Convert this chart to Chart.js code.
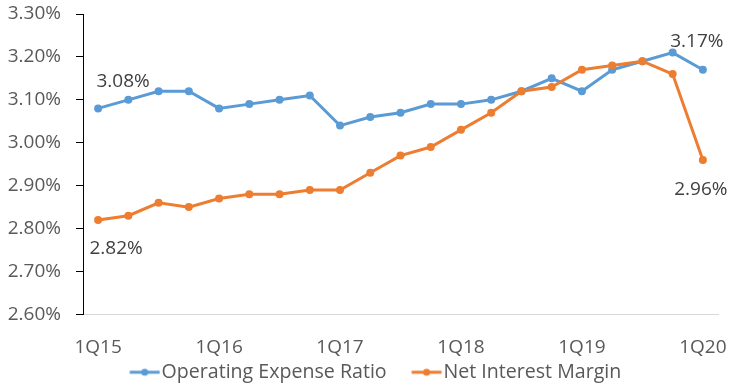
<!DOCTYPE html>
<html>
<head>
<meta charset="utf-8">
<script src="https://cdn.jsdelivr.net/npm/chart.js@4/dist/chart.umd.min.js"></script>
<style>
    body { margin: 0; background: #fff; }
    #wrap { width: 750px; height: 389px; position: relative; }
</style>
</head>
<body>
<div id="wrap"><canvas id="ratioChart"></canvas></div>
<script>
// Quarters on the x axis (only every 4th one is labelled)
const quarters = [
    '1Q15', '2Q15', '3Q15', '4Q15',
    '1Q16', '2Q16', '3Q16', '4Q16',
    '1Q17', '2Q17', '3Q17', '4Q17',
    '1Q18', '2Q18', '3Q18', '4Q18',
    '1Q19', '2Q19', '3Q19', '4Q19',
    '1Q20'
];

// Series values, in percent
const opexRatio = [3.08, 3.10, 3.12, 3.12, 3.08, 3.09, 3.10, 3.11, 3.04, 3.06, 3.07,
                   3.09, 3.09, 3.10, 3.12, 3.15, 3.12, 3.17, 3.19, 3.21, 3.17];
const netInterestMargin = [2.82, 2.83, 2.86, 2.85, 2.87, 2.88, 2.88, 2.89, 2.89, 2.93, 2.97,
                           2.99, 3.03, 3.07, 3.12, 3.13, 3.17, 3.18, 3.19, 3.16, 2.96];

// Y axis range
const yMin = 2.6;
const yMax = 3.3;
const yStep = 0.1;

const BLUE = '#5B9BD5';
const ORANGE = '#ED7D31';
const FONT = '"Open Sans", "DejaVu Sans", sans-serif';

// Which points carry a value label, and where the text sits relative to the point
const valueLabels = [
    { dataset: 0, index: 0, dx: 25, dy: -27 },
    { dataset: 0, index: 20, dx: -6, dy: -28 },
    { dataset: 1, index: 0, dx: 18, dy: 29 },
    { dataset: 1, index: 20, dx: -2, dy: 30 }
];

// Small line + dot picture for the legend
function legendMarker(color) {
    const c = document.createElement('canvas');
    c.width = 60;
    c.height = 10;
    const g = c.getContext('2d');
    g.strokeStyle = color;
    g.lineWidth = 3;
    g.beginPath();
    g.moveTo(29.5, 5);
    g.lineTo(59.5, 5);
    g.stroke();
    g.fillStyle = color;
    g.beginPath();
    g.arc(44.5, 5, 3.5, 0, Math.PI * 2);
    g.fill();
    return c;
}

const valueLabelPlugin = {
    id: 'valueLabels',
    afterDatasetsDraw(chart) {
        const ctx = chart.ctx;
        ctx.save();
        ctx.font = '19px ' + FONT;
        ctx.fillStyle = '#404040';
        ctx.textAlign = 'center';
        ctx.textBaseline = 'middle';
        valueLabels.forEach(l => {
            const pt = chart.getDatasetMeta(l.dataset).data[l.index];
            const v = chart.data.datasets[l.dataset].data[l.index];
            ctx.fillText(v.toFixed(2) + '%', pt.x + l.dx, pt.y + l.dy);
        });
        ctx.restore();
    }
};

document.addEventListener('DOMContentLoaded', function() {
    const ctx = document.getElementById('ratioChart');

    new Chart(ctx, {
        type: 'line',
        data: {
            labels: quarters,
            datasets: [{
                label: 'Operating Expense Ratio',
                data: opexRatio,
                borderColor: BLUE,
                backgroundColor: BLUE,
                borderWidth: 3,
                pointRadius: 4,
                pointHoverRadius: 4,
                pointBorderWidth: 0,
                tension: 0,
                order: 1
            }, {
                label: 'Net Interest Margin',
                data: netInterestMargin,
                borderColor: ORANGE,
                backgroundColor: ORANGE,
                borderWidth: 3,
                pointRadius: 4,
                pointHoverRadius: 4,
                pointBorderWidth: 0,
                tension: 0,
                order: 0
            }]
        },
        options: {
            responsive: true,
            maintainAspectRatio: false,
            animation: false,
            layout: {
                padding: { top: 14, left: 0, right: 20, bottom: -3 }
            },
            plugins: {
                tooltip: { enabled: false },
                legend: {
                    position: 'bottom',
                    labels: {
                        usePointStyle: true,
                        pointStyleWidth: 43,
                        boxHeight: 10,
                        padding: 4,
                        color: '#595959',
                        font: { family: FONT, size: 19.6 },
                        sort: (a, b) => a.datasetIndex - b.datasetIndex,
                        generateLabels: function(chart) {
                            const items = Chart.defaults.plugins.legend.labels.generateLabels(chart);
                            items.forEach(it => {
                                it.pointStyle = legendMarker(it.datasetIndex === 0 ? BLUE : ORANGE);
                            });
                            return items;
                        }
                    }
                }
            },
            scales: {
                x: {
                    offset: true,
                    grid: { display: false },
                    border: { color: '#d9d9d9', width: 1 },
                    ticks: {
                        autoSkip: false,
                        maxRotation: 0,
                        padding: 14,
                        color: '#595959',
                        font: { family: FONT, size: 19 },
                        callback: function(value, index) {
                            return index % 4 === 0 ? this.getLabelForValue(value) : '';
                        }
                    },
                    afterFit: s => { s.height = 44; }
                },
                y: {
                    min: yMin,
                    max: yMax,
                    grid: {
                        drawOnChartArea: false,
                        drawTicks: true,
                        tickLength: 7,
                        tickColor: '#000'
                    },
                    border: { color: '#000', width: 1 },
                    ticks: {
                        stepSize: yStep,
                        padding: 15,
                        color: '#595959',
                        font: { family: FONT, size: 19 },
                        callback: v => v.toFixed(2) + '%'
                    },
                    afterFit: s => {
                        s.width = 83;
                        s.paddingTop = 0;
                        s.paddingBottom = 0;
                    }
                },
                yRight: {
                    position: 'right',
                    grid: { display: false },
                    border: { display: false },
                    ticks: { display: false },
                    afterFit: s => { s.width = 12; }
                }
            }
        },
        plugins: [valueLabelPlugin]
    });
});
</script>
</body>
</html>
